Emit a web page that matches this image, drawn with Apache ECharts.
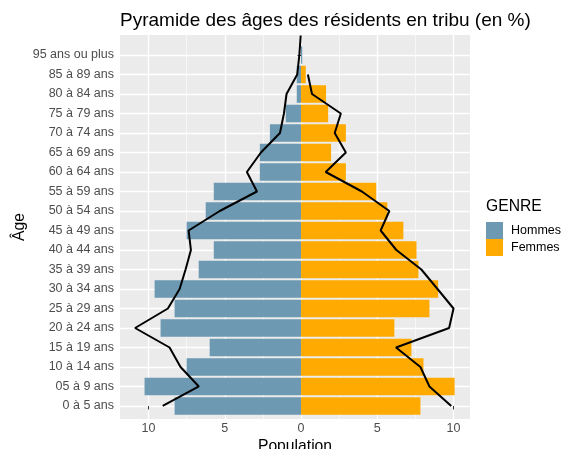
<!DOCTYPE html>
<html>
<head>
<meta charset="utf-8">
<script src="https://cdn.jsdelivr.net/npm/echarts@6/dist/echarts.min.js"></script>
<style>
  html, body { margin: 0; padding: 0; background: #fff; }
  #main { width: 561px; height: 449px; }
</style>
</head>
<body>
<div id="main"></div>
<script>
// age groups, bottom to top
const ages = ['0 à 5 ans', '05 à 9 ans', '10 à 14 ans', '15 à 19 ans', '20 à 24 ans', '25 à 29 ans',
  '30 à 34 ans', '35 à 39 ans', '40 à 44 ans', '45 à 49 ans', '50 à 54 ans', '55 à 59 ans',
  '60 à 64 ans', '65 à 69 ans', '70 à 74 ans', '75 à 79 ans', '80 à 84 ans', '85 à 89 ans',
  '95 ans ou plus']

// bars (% of residents), men drawn on the negative side
const hommes = [-8.29, -10.26, -7.5, -5.99, -9.21, -8.29, -9.6, -6.71, -5.72, -7.5,
  -6.25, -5.72, -2.7, -2.7, -2.04, -1.0, -0.28, -0.28, 0.08]
const femmes = [7.83, 10.07, 8.03, 7.24, 6.12, 8.42, 8.99, 7.70, 7.57, 6.71,
  5.66, 4.93, 2.94, 1.97, 2.94, 1.78, 1.64, 0.31, 0]

// reference lines, one value per age position (men has one extra point above the last group)
const ligneHommes = [-9.07, -6.7, -7.9, -8.62, -10.88, -8.73, -7.96, -7.57, -7.22, -7.37,
  -5.33, -2.89, -3.55, -2.63, -1.38, -1.12, -0.95, -0.25, -0.11, -0.02]
const ligneFemmes = [9.85, 8.42, 7.83, 6.23, 9.71, 10.0, 8.95, 7.89, 6.25, 5.22,
  5.79, 3.99, 1.62, 2.94, 2.21, 2.61, 0.72, 0.45, null]

const xTicks = [-10, -5, 0, 5, 10]
const xMinor = [-7.5, -2.5, 2.5, 7.5]

const font = 'Liberation Sans, Arial, sans-serif'
const xMin = -11.87, xMax = 11.08
const yMin = -0.667, yMax = 19.026

// panel box
const panel = { left: 120, right: 91, top: 35, bottom: 30 }
const panelH = 449 - panel.top - panel.bottom
const rowPx = panelH / (yMax - yMin)
// bar grid: same rows as the value axis, one band per age group
const barGrid = {
  left: panel.left, right: panel.right,
  top: panel.top + (yMax - (ages.length - 0.5)) * rowPx,
  bottom: panel.bottom + (-0.5 - yMin) * rowPx,
  outerBoundsMode: 'none'
}

const toPairs = arr => arr.map((v, i) => v == null ? null : [v, i]).filter(p => p)

const chart = echarts.init(document.getElementById('main'))

chart.setOption({
  animation: false,
  textStyle: { fontFamily: font },
  title: [
    {
      text: 'Pyramide des âges des résidents en tribu (en %)',
      left: 120, top: 11, padding: 0,
      textStyle: { fontFamily: font, fontSize: 19, fontWeight: 'normal', color: '#000' }
    },
    {
      text: 'GENRE',
      left: 486, top: 199, padding: 0,
      textStyle: { fontFamily: font, fontSize: 15.7, fontWeight: 'normal', color: '#000' }
    }
  ],
  legend: {
    orient: 'vertical',
    left: 486, top: 222, padding: 0,
    itemWidth: 17, itemHeight: 17, itemGap: 0,
    icon: 'rect',
    data: ['Hommes', 'Femmes'],
    textStyle: { fontFamily: font, fontSize: 12.5, color: '#000', padding: [0, 0, 0, 3] }
  },
  grid: [
    Object.assign({ show: true, backgroundColor: '#EBEBEB', borderWidth: 0, outerBoundsMode: 'none' }, panel),
    barGrid
  ],
  xAxis: [
    {
      gridIndex: 0, type: 'value', min: xMin, max: xMax,
      name: 'Population', nameLocation: 'middle', nameGap: 20, nameMoveOverlap: false,
      nameTextStyle: { fontFamily: font, fontSize: 15.7, color: '#000' },
      axisLine: { show: false },
      axisTick: { show: true, length: 3.5, customValues: xTicks, lineStyle: { color: '#333' } },
      axisLabel: {
        customValues: xTicks, margin: 3,
        fontFamily: font, fontSize: 12.5, color: '#4D4D4D',
        formatter: v => String(Math.abs(v))
      },
      splitLine: { show: true, lineStyle: { color: '#fff', width: 1.3 } }
    },
    {
      gridIndex: 0, type: 'value', min: xMin, max: xMax,
      axisLine: { show: false },
      axisTick: { show: false, customValues: xMinor },
      axisLabel: { show: false, customValues: xMinor },
      splitLine: { show: true, lineStyle: { color: '#fff', width: 0.6 } }
    },
    {
      gridIndex: 1, type: 'value', min: xMin, max: xMax, show: false
    }
  ],
  yAxis: [
    {
      gridIndex: 0, type: 'value', min: yMin, max: yMax,
      name: 'Âge', nameLocation: 'middle', nameGap: 92, nameRotate: 90, nameMoveOverlap: false,
      nameTextStyle: { fontFamily: font, fontSize: 15.7, color: '#000' },
      axisLine: { show: false },
      axisTick: { show: true, length: 3.5, customValues: ages.map((_, i) => i), lineStyle: { color: '#333' } },
      axisLabel: {
        customValues: ages.map((_, i) => i), margin: 6,
        fontFamily: font, fontSize: 12.5, color: '#4D4D4D',
        formatter: v => ages[Math.round(v)]
      },
      splitLine: { show: true, lineStyle: { color: '#fff', width: 1.3 } }
    },
    {
      gridIndex: 1, type: 'category', data: ages, show: false
    }
  ],
  series: [
    {
      name: 'Hommes', type: 'bar', stack: 'pop',
      xAxisIndex: 2, yAxisIndex: 1,
      barWidth: '90%',
      itemStyle: { color: '#6D99B3' },
      data: hommes
    },
    {
      name: 'Femmes', type: 'bar', stack: 'pop',
      xAxisIndex: 2, yAxisIndex: 1,
      barWidth: '90%',
      itemStyle: { color: '#FFAA00' },
      data: femmes
    },
    {
      type: 'line', xAxisIndex: 0, yAxisIndex: 0,
      data: toPairs(ligneHommes),
      symbol: 'none', lineStyle: { color: '#000', width: 2 }, clip: true, z: 5
    },
    {
      type: 'line', xAxisIndex: 0, yAxisIndex: 0,
      data: toPairs(ligneFemmes),
      symbol: 'none', lineStyle: { color: '#000', width: 2 }, clip: true, z: 5
    }
  ]
})
</script>
</body>
</html>
